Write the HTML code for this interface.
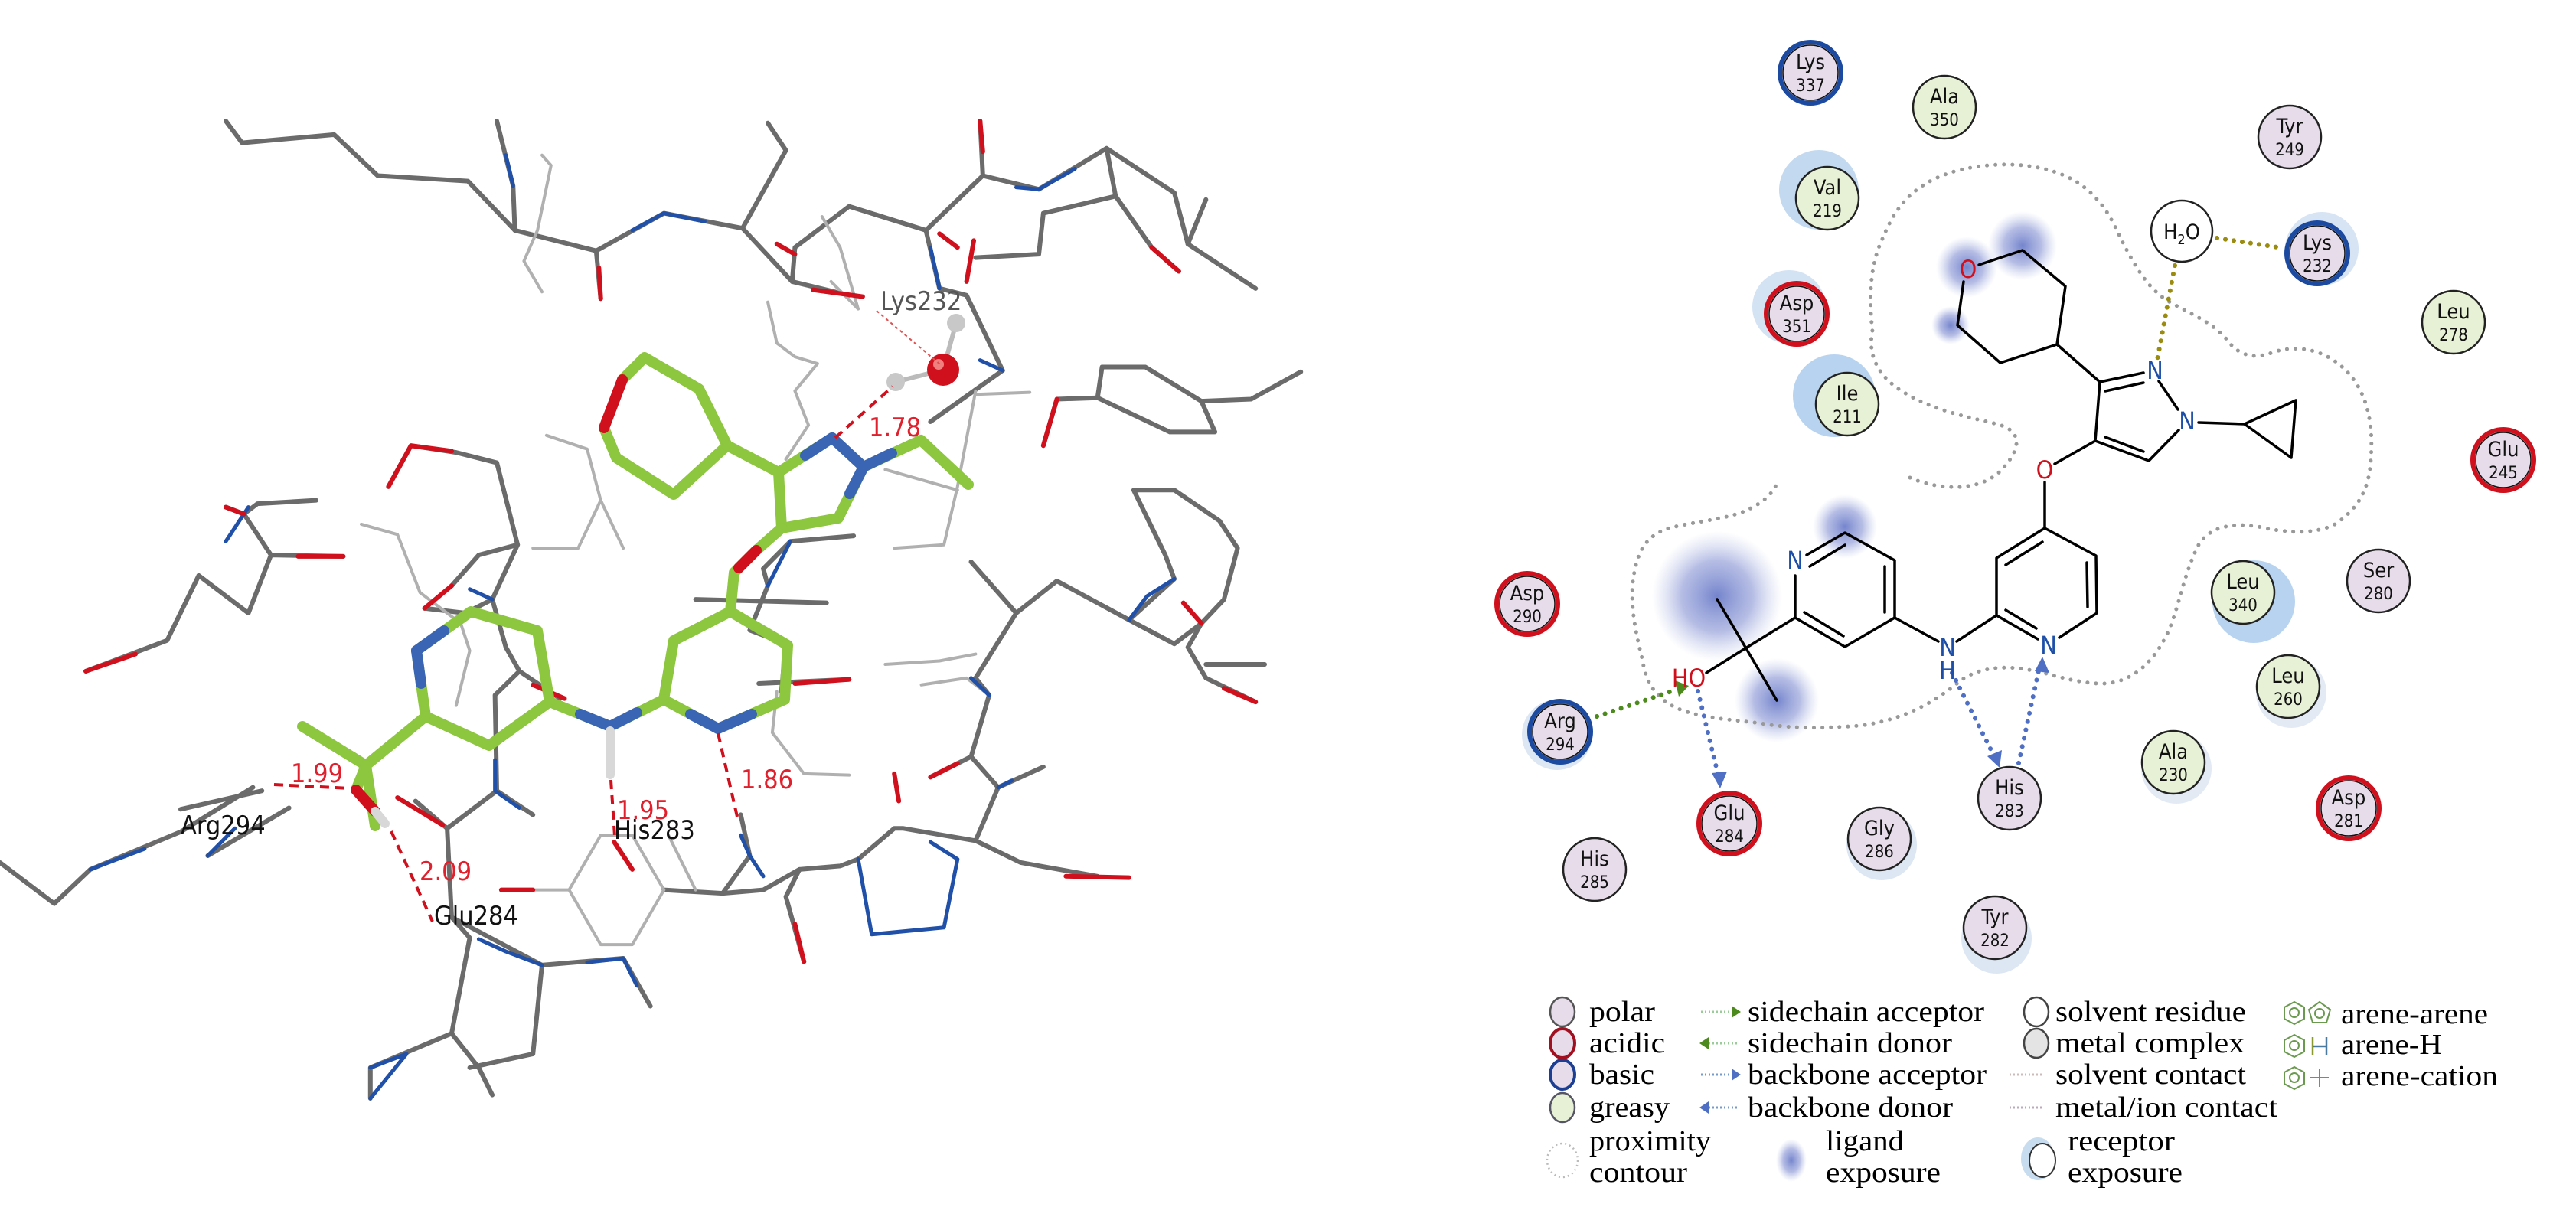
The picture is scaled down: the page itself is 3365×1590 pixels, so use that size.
<!DOCTYPE html>
<html><head><meta charset="utf-8">
<style>
html,body{margin:0;padding:0;background:#fff;}
svg{display:block;}
.rn{font-family:"DejaVu Sans Condensed","DejaVu Sans",sans-serif;font-size:27px;text-anchor:middle;fill:#111;}
.rk{font-family:"DejaVu Sans Condensed","DejaVu Sans",sans-serif;font-size:22px;text-anchor:middle;fill:#111;}
.lg{font-family:"Liberation Serif",serif;font-size:38px;fill:#000;}
.at{font-family:"DejaVu Sans Condensed","DejaVu Sans",sans-serif;font-size:32px;text-anchor:middle;dominant-baseline:central;}
.lbl{font-family:"DejaVu Sans Condensed","DejaVu Sans",sans-serif;font-size:34px;}
</style></head>
<body>
<svg width="3365" height="1590" viewBox="0 0 3365 1590" xmlns="http://www.w3.org/2000/svg">
<defs>
<radialGradient id="lb"><stop offset="0" stop-color="#5c6fc4" stop-opacity="0.85"/><stop offset="0.55" stop-color="#7a88cf" stop-opacity="0.55"/><stop offset="1" stop-color="#a9b3e0" stop-opacity="0"/></radialGradient>
<marker id="ag" viewBox="0 0 10 10" refX="8" refY="5" markerWidth="5" markerHeight="5" orient="auto"><path d="M0,0L10,5L0,10z" fill="#4d8a1e"/></marker>
<marker id="ab" viewBox="0 0 10 10" refX="8" refY="5" markerWidth="5" markerHeight="5" orient="auto"><path d="M0,0L10,5L0,10z" fill="#4f6fc4"/></marker>
</defs>

<!-- ========== LEFT 3D PANEL ========== -->
<g transform="translate(0,100) scale(1.18,0.893)" fill="none" stroke-linecap="round" stroke-linejoin="round">
<g stroke="#6b6b6b" stroke-width="6" vector-effect="non-scaling-stroke">
<polyline vector-effect="non-scaling-stroke" points="250,65 268,97 370,85 418,145 518,153 570,225 660,255 735,200 822,222 870,108 850,68"/>
<polyline vector-effect="non-scaling-stroke" points="550,65 568,160 570,225"/>
<polyline vector-effect="non-scaling-stroke" points="660,255 665,325"/>
<polyline vector-effect="non-scaling-stroke" points="822,222 877,300 940,320"/>
<polyline vector-effect="non-scaling-stroke" points="877,300 880,250 940,190 1025,225 1088,145 1150,165 1225,105 1300,170 1315,245 1390,310"/>
<polyline vector-effect="non-scaling-stroke" points="1088,145 1085,65"/>
<polyline vector-effect="non-scaling-stroke" points="1025,225 1040,310 1070,320 1110,430 1030,505"/>
<polyline vector-effect="non-scaling-stroke" points="1225,105 1235,175 1155,200 1150,260 1080,265"/>
<polyline vector-effect="non-scaling-stroke" points="1235,175 1275,250 1305,285"/>
<polyline vector-effect="non-scaling-stroke" points="1315,245 1335,180"/>
<polyline vector-effect="non-scaling-stroke" points="1155,540 1170,472 1215,470 1295,520 1345,520 1330,475 1385,472 1440,432"/>
<polyline vector-effect="non-scaling-stroke" points="1215,470 1220,425 1268,425 1330,475"/>
<polyline vector-effect="non-scaling-stroke" points="220,730 275,785 300,700 380,702"/>
<polyline vector-effect="non-scaling-stroke" points="300,700 270,640 250,630"/>
<polyline vector-effect="non-scaling-stroke" points="270,640 285,625 350,620"/>
<polyline vector-effect="non-scaling-stroke" points="220,730 185,825 95,870"/>
<polyline vector-effect="non-scaling-stroke" points="430,600 455,540 505,550 550,565 573,685 545,765 515,785 470,778"/>
<polyline vector-effect="non-scaling-stroke" points="573,685 530,700 500,745"/>
<polyline vector-effect="non-scaling-stroke" points="545,765 560,835 575,870 620,910"/>
<polyline vector-effect="non-scaling-stroke" points="550,1045 548,905 575,870"/>
<polyline vector-effect="non-scaling-stroke" points="1075,710 1125,785 1170,738 1250,795 1300,830 1330,800 1355,765 1370,690 1350,650 1300,605 1255,605 1290,700 1300,735 1250,795"/>
<polyline vector-effect="non-scaling-stroke" points="1125,785 1080,880 1095,905 1075,995 1030,1025"/>
<polyline vector-effect="non-scaling-stroke" points="1075,995 1105,1040 1080,1118 1130,1150 1215,1170"/>
<polyline vector-effect="non-scaling-stroke" points="1105,1040 1155,1010"/>
<polyline vector-effect="non-scaling-stroke" points="1330,800 1315,835 1335,880 1390,915"/>
<polyline vector-effect="non-scaling-stroke" points="1335,860 1400,860"/>
<polyline vector-effect="non-scaling-stroke" points="770,765 915,770"/>
<polyline vector-effect="non-scaling-stroke" points="845,720 875,680 945,672"/>
<polyline vector-effect="non-scaling-stroke" points="845,720 850,745 830,810 870,830 865,900"/>
<polyline vector-effect="non-scaling-stroke" points="840,888 940,882"/>
<polyline vector-effect="non-scaling-stroke" points="735,1190 800,1195 845,1190 885,1160 930,1155 950,1145 990,1100 1000,1100 1080,1118"/>
<polyline vector-effect="non-scaling-stroke" points="885,1160 870,1200 890,1295"/>
<polyline vector-effect="non-scaling-stroke" points="820,1080 830,1140 800,1195"/>
<polyline vector-effect="non-scaling-stroke" points="495,1100 500,1230 520,1260 500,1400 410,1450 410,1495"/>
<polyline vector-effect="non-scaling-stroke" points="500,1400 530,1450 545,1490"/>
<polyline vector-effect="non-scaling-stroke" points="500,1230 600,1300 690,1290 720,1360"/>
<polyline vector-effect="non-scaling-stroke" points="600,1300 590,1430 520,1450"/>
<polyline vector-effect="non-scaling-stroke" points="460,1060 495,1100 550,1045 590,1080"/>
<polyline vector-effect="non-scaling-stroke" points="0,1150 60,1210 100,1160 200,1105 280,1040"/>
<polyline vector-effect="non-scaling-stroke" points="200,1072 290,1045"/>
<polyline vector-effect="non-scaling-stroke" points="230,1140 320,1070"/>
</g>
<g stroke="#b0b0b0" stroke-width="4">
<polyline vector-effect="non-scaling-stroke" points="600,115 610,130 595,225 580,270 600,315"/>
<polyline vector-effect="non-scaling-stroke" points="910,205 930,250 950,340 920,300"/>
<polyline vector-effect="non-scaling-stroke" points="850,330 860,390 880,410 905,420 880,460 895,510 870,560"/>
<polyline vector-effect="non-scaling-stroke" points="1080,460 1060,600 1045,685 990,690"/>
<polyline vector-effect="non-scaling-stroke" points="1140,462 1080,465"/>
<polyline vector-effect="non-scaling-stroke" points="980,575 1060,605"/>
<polyline vector-effect="non-scaling-stroke" points="605,525 650,545 665,620 690,690"/>
<polyline vector-effect="non-scaling-stroke" points="665,620 640,690 590,690"/>
<polyline vector-effect="non-scaling-stroke" points="400,655 440,670 465,755 510,800 520,840 505,920"/>
<polyline vector-effect="non-scaling-stroke" points="860,900 855,960 890,1020 940,1022"/>
<polyline vector-effect="non-scaling-stroke" points="980,860 1040,855 1080,845"/>
<polyline vector-effect="non-scaling-stroke" points="1020,890 1070,880 1095,905"/>
<polyline vector-effect="non-scaling-stroke" points="630,1190 665,1110 700,1110 735,1190 700,1270 665,1270 630,1190"/>
<polyline vector-effect="non-scaling-stroke" points="555,1190 630,1190"/>
<polyline vector-effect="non-scaling-stroke" points="740,1110 770,1190"/>
</g>
<!-- colored accents -->
<g stroke="#2050a8" stroke-width="5">
<polyline vector-effect="non-scaling-stroke" points="560,115 568,160"/>
<polyline vector-effect="non-scaling-stroke" points="700,225 735,200 780,212"/>
<polyline vector-effect="non-scaling-stroke" points="1125,162 1150,165 1190,135"/>
<polyline vector-effect="non-scaling-stroke" points="1030,250 1040,310"/>
<polyline vector-effect="non-scaling-stroke" points="1085,415 1110,430"/>
<polyline vector-effect="non-scaling-stroke" points="250,680 275,630"/>
<polyline vector-effect="non-scaling-stroke" points="545,765 520,750"/>
<polyline vector-effect="non-scaling-stroke" points="850,745 875,680"/>
<polyline vector-effect="non-scaling-stroke" points="1250,795 1270,760 1300,735"/>
<polyline vector-effect="non-scaling-stroke" points="548,1000 548,1045 575,1070"/>
<polyline vector-effect="non-scaling-stroke" points="820,1110 830,1140 845,1170"/>
<polyline vector-effect="non-scaling-stroke" points="950,1145 965,1255 1045,1245 1060,1145 1030,1120"/>
<polyline vector-effect="non-scaling-stroke" points="100,1160 160,1130"/>
<polyline vector-effect="non-scaling-stroke" points="410,1450 450,1430 410,1495"/>
<polyline vector-effect="non-scaling-stroke" points="600,1300 560,1280 530,1262"/>
<polyline vector-effect="non-scaling-stroke" points="650,1296 690,1290 705,1330"/>
<polyline vector-effect="non-scaling-stroke" points="230,1140 260,1100"/>
<polyline vector-effect="non-scaling-stroke" points="1095,905 1075,880"/>
<polyline vector-effect="non-scaling-stroke" points="1105,1040 1120,1030"/>
</g>
<g stroke="#d0101c" stroke-width="6">
<polyline vector-effect="non-scaling-stroke" points="663,280 665,325"/>
<polyline vector-effect="non-scaling-stroke" points="900,312 955,322"/>
<polyline vector-effect="non-scaling-stroke" points="1085,65 1088,110"/>
<polyline vector-effect="non-scaling-stroke" points="1275,250 1305,285"/>
<polyline vector-effect="non-scaling-stroke" points="1040,230 1060,250"/>
<polyline vector-effect="non-scaling-stroke" points="1078,240 1070,300"/>
<polyline vector-effect="non-scaling-stroke" points="330,702 380,702"/>
<polyline vector-effect="non-scaling-stroke" points="250,630 270,640"/>
<polyline vector-effect="non-scaling-stroke" points="95,870 150,845"/>
<polyline vector-effect="non-scaling-stroke" points="430,600 455,540 500,548"/>
<polyline vector-effect="non-scaling-stroke" points="470,778 500,745"/>
<polyline vector-effect="non-scaling-stroke" points="590,890 625,910"/>
<polyline vector-effect="non-scaling-stroke" points="880,888 940,882"/>
<polyline vector-effect="non-scaling-stroke" points="1030,1025 1060,1005"/>
<polyline vector-effect="non-scaling-stroke" points="1180,1170 1250,1172"/>
<polyline vector-effect="non-scaling-stroke" points="1355,895 1390,915"/>
<polyline vector-effect="non-scaling-stroke" points="880,1240 890,1295"/>
<polyline vector-effect="non-scaling-stroke" points="990,1020 995,1060"/>
<polyline vector-effect="non-scaling-stroke" points="680,1120 700,1160"/>
<polyline vector-effect="non-scaling-stroke" points="555,1190 590,1190"/>
<polyline vector-effect="non-scaling-stroke" points="1310,770 1330,800"/>
<polyline vector-effect="non-scaling-stroke" points="440,1055 490,1095"/>
<polyline vector-effect="non-scaling-stroke" points="1170,472 1155,540"/>
<polyline vector-effect="non-scaling-stroke" points="860,245 880,260"/>
</g>
</g>

<!-- Ligand green sticks -->
<g fill="none" stroke="#8dc63f" stroke-width="14" stroke-linecap="round" stroke-linejoin="round">
<polyline points="813,496 842,467 913,508 950,582 880,646 805,598 789,559"/>
<polyline points="950,582 1017,617 1087,572 1128,610 1095,677 1021,690 1017,617"/>
<polyline points="1128,610 1203,575 1265,633"/>
<polyline points="1021,690 988,719 959,748 954,799"/>
<polyline points="954,799 1029,843 1025,914 938,952 867,914 880,837 954,799"/>
<polyline points="867,914 797,949 718,917"/>
<polyline points="718,917 702,824 615,799 544,850 556,936 639,974 718,917"/>
<polyline points="556,936 478,1000 395,949"/>
<polyline points="478,1000 490,1079"/>
<polyline points="478,1000 465,1032"/>
</g>
<g fill="none" stroke-width="14" stroke-linecap="round">
<line x1="789" y1="559" x2="813" y2="496" stroke="#d0101c"/>
<line x1="1052" y1="595" x2="1087" y2="572" stroke="#3a64b4"/>
<line x1="1087" y1="572" x2="1128" y2="610" stroke="#3a64b4"/>
<line x1="1128" y1="610" x2="1110" y2="645" stroke="#3a64b4"/>
<line x1="1128" y1="610" x2="1165" y2="592" stroke="#3a64b4"/>
<line x1="988" y1="719" x2="965" y2="742" stroke="#d0101c"/>
<line x1="982" y1="933" x2="938" y2="952" stroke="#3a64b4"/>
<line x1="938" y1="952" x2="902" y2="933" stroke="#3a64b4"/>
<line x1="832" y1="931" x2="797" y2="949" stroke="#3a64b4"/>
<line x1="797" y1="949" x2="758" y2="933" stroke="#3a64b4"/>
<line x1="797" y1="955" x2="797" y2="1012" stroke="#d8d8d8" stroke-width="12"/>
<line x1="580" y1="824" x2="544" y2="850" stroke="#3a64b4"/>
<line x1="544" y1="850" x2="550" y2="893" stroke="#3a64b4"/>
<line x1="465" y1="1032" x2="490" y2="1060" stroke="#d0101c"/>
<line x1="490" y1="1060" x2="503" y2="1076" stroke="#d8d8d8" stroke-width="12"/>
</g>
<!-- water -->
<line x1="1170" y1="499" x2="1232" y2="483" stroke="#bbb" stroke-width="6"/>
<line x1="1232" y1="483" x2="1249" y2="422" stroke="#bbb" stroke-width="6"/>
<circle cx="1232" cy="483" r="21" fill="#d0101c"/>
<circle cx="1226" cy="476" r="7" fill="#f08080"/>
<circle cx="1170" cy="499" r="12" fill="#c8c8c8"/>
<circle cx="1249" cy="422" r="12" fill="#c8c8c8"/>
<!-- H-bond dashes -->
<g stroke="#d0101c" stroke-width="4" stroke-dasharray="12,8" fill="none">
<line x1="1091" y1="572" x2="1166" y2="505"/>
<line x1="938" y1="958" x2="963" y2="1067"/>
<line x1="798" y1="1019" x2="803" y2="1092"/>
<line x1="358" y1="1025" x2="457" y2="1030"/>
<line x1="511" y1="1086" x2="565" y2="1204"/>
</g>
<line x1="1145" y1="406" x2="1228" y2="476" stroke="#e05050" stroke-width="2" stroke-dasharray="4,4"/>
<g class="lbl" fill="#e0202c">
<text x="1135" y="570">1.78</text>
<text x="968" y="1030">1.86</text>
<text x="806" y="1070">1.95</text>
<text x="380" y="1022">1.99</text>
<text x="548" y="1150">2.09</text>
</g>
<g class="lbl" fill="#111">
<text x="1150" y="405" fill="#555">Lys232</text>
<text x="236" y="1090">Arg294</text>
<text x="802" y="1096">His283</text>
<text x="567" y="1208">Glu284</text>
</g>

<!-- ========== RIGHT 2D PANEL ========== -->
<!-- receptor exposure halos -->
<g>
<circle cx="2376" cy="248" r="52" fill="#c3d9f0"/>
<circle cx="2337" cy="401" r="48" fill="#d3e3f3"/>
<circle cx="2396" cy="517" r="54" fill="#b8d3ef"/>
<circle cx="3033" cy="325" r="48" fill="#d6e4f4"/>
<circle cx="2944" cy="786" r="54" fill="#b8d3ef"/>
<circle cx="2608" cy="1226" r="46" fill="#dde6f3"/>
<circle cx="2458" cy="1104" r="46" fill="#dde6f3"/>
<circle cx="2843" cy="1004" r="46" fill="#e3eaf4"/>
<circle cx="2993" cy="905" r="46" fill="#e3eaf4"/>
<circle cx="2034" cy="960" r="46" fill="#dde6f3"/>
</g>
<!-- ligand exposure blobs -->
<g>
<circle cx="2243" cy="779" r="85" fill="url(#lb)"/>
<circle cx="2321" cy="915" r="55" fill="url(#lb)"/>
<circle cx="2410" cy="688" r="42" fill="url(#lb)"/>
<circle cx="2642" cy="321" r="45" fill="url(#lb)"/>
<circle cx="2569" cy="349" r="40" fill="url(#lb)"/>
<circle cx="2548" cy="425" r="25" fill="url(#lb)"/>
</g>
<!-- proximity contour -->
<g fill="none" stroke="#999" stroke-width="5" stroke-dasharray="0.1,11" stroke-linecap="round">
<path d="M2495,624 C2530,640 2590,645 2618,610 C2640,585 2640,565 2615,556 C2590,548 2530,540 2486,512 C2450,490 2440,460 2446,433 C2440,380 2445,340 2460,310 C2480,260 2510,235 2560,222 C2620,208 2680,215 2718,241 C2750,265 2760,290 2771,313 C2790,350 2805,375 2830,392 C2860,410 2890,420 2910,445 C2925,465 2945,470 2970,460 C3000,450 3040,455 3070,490 C3095,520 3100,560 3097,600 C3095,640 3080,665 3050,685 C3020,700 2980,695 2950,688 C2910,682 2880,690 2868,720 C2850,760 2845,800 2830,830 C2810,870 2780,895 2740,893 C2700,890 2680,880 2650,875 C2610,868 2580,875 2560,890 C2530,915 2490,940 2430,948 C2380,952 2340,952 2300,945 C2260,940 2220,938 2190,925 C2160,910 2150,890 2145,860 C2135,820 2130,790 2133,760 C2138,720 2150,700 2180,690 C2220,680 2260,678 2285,665 C2305,655 2315,645 2321,632"/>
</g>

<!-- H-bond interactions -->
<g fill="none" stroke-width="6" stroke-dasharray="0.1,11" stroke-linecap="round">
<line x1="2896" y1="311" x2="2975" y2="323" stroke="#9a8c10"/>
<line x1="2841" y1="347" x2="2818" y2="470" stroke="#9a8c10"/>
<line x1="2086" y1="936" x2="2190" y2="901" stroke="#4d8a1e"/>
<line x1="2218" y1="903" x2="2245" y2="1015" stroke="#4f6fc4"/>
<line x1="2550" y1="879" x2="2606" y2="990" stroke="#4f6fc4"/>
<line x1="2637" y1="997" x2="2664" y2="872" stroke="#4f6fc4"/>
</g>
<g>
<path d="M2206,896 L2188,889 L2193,910 Z" fill="#4d8a1e"/>
<path d="M2247,1030 L2236,1010 L2256,1008 Z" fill="#4f6fc4"/>
<path d="M2612,1003 L2596,988 L2615,980 Z" fill="#4f6fc4"/>
<path d="M2668,858 L2658,877 L2677,879 Z" fill="#4f6fc4"/>
</g>

<!-- ligand 2D bonds -->
<g stroke="#000" stroke-width="3.5" fill="none" stroke-linecap="round" stroke-linejoin="round">
<polyline points="2585,346 2642,327 2698,374 2687,450 2613,474 2557,425 2565,368"/>
<line x1="2687" y1="450" x2="2743" y2="499"/>
<line x1="2743" y1="499" x2="2800" y2="487"/>
<line x1="2750" y1="511" x2="2800" y2="500"/>
<line x1="2820" y1="498" x2="2845" y2="535"/>
<line x1="2846" y1="562" x2="2807" y2="602"/>
<polyline points="2807,602 2737,576 2743,499"/>
<line x1="2750" y1="571" x2="2800" y2="590"/>
<line x1="2872" y1="552" x2="2932" y2="554"/>
<polyline points="2932,554 2999,523 2993,598 2932,554"/>
<line x1="2737" y1="576" x2="2684" y2="606"/>
<line x1="2671" y1="630" x2="2671" y2="690"/>
<polyline points="2671,690 2738,726 2739,801 2690,833"/>
<polyline points="2671,690 2608,729 2608,804 2662,835"/>
<line x1="2620" y1="738" x2="2668" y2="708"/>
<line x1="2726" y1="735" x2="2727" y2="793"/>
<line x1="2620" y1="797" x2="2660" y2="821"/>
<line x1="2608" y1="804" x2="2556" y2="838"/>
<line x1="2532" y1="838" x2="2475" y2="807"/>
<polyline points="2475,807 2475,732 2410,696 2360,725"/>
<polyline points="2475,807 2410,845 2345,807 2345,752"/>
<line x1="2364" y1="740" x2="2410" y2="712"/>
<line x1="2462" y1="740" x2="2462" y2="800"/>
<line x1="2357" y1="800" x2="2408" y2="831"/>
<line x1="2345" y1="807" x2="2280" y2="847"/>
<line x1="2243" y1="783" x2="2321" y2="915"/>
<line x1="2280" y1="847" x2="2229" y2="879"/>
</g>
<g class="at">
<text x="2571" y="352" fill="#d0101c">O</text>
<text x="2815" y="484" fill="#1d4fa8">N</text>
<text x="2857" y="550" fill="#1d4fa8">N</text>
<text x="2671" y="614" fill="#d0101c">O</text>
<text x="2676" y="843" fill="#1d4fa8">N</text>
<text x="2544" y="846" fill="#1d4fa8">N</text>
<text x="2544" y="876" fill="#1d4fa8">H</text>
<text x="2345" y="732" fill="#1d4fa8">N</text>
<text x="2206" y="886" fill="#d0101c">HO</text>
</g>

<!-- residues -->
<g stroke-width="2.5">
<!-- polar -->
<g fill="#e6dcea" stroke="#222">
<circle cx="2991" cy="179" r="41"/><circle cx="3107" cy="759" r="41"/>
<circle cx="2625" cy="1043" r="41"/><circle cx="2455" cy="1096" r="41"/>
<circle cx="2083" cy="1136" r="41"/><circle cx="2606" cy="1212" r="41"/>
</g>
<!-- greasy -->
<g fill="#e7f1d6" stroke="#222">
<circle cx="2540" cy="140" r="41"/><circle cx="2387" cy="259" r="41"/>
<circle cx="3205" cy="421" r="41"/><circle cx="2413" cy="528" r="41"/>
<circle cx="2930" cy="774" r="41"/><circle cx="2989" cy="897" r="41"/>
<circle cx="2839" cy="996" r="41"/>
</g>
<!-- acidic -->
<g fill="#e6dcea" stroke="#d0101c" stroke-width="6">
<circle cx="2347" cy="410" r="40"/><circle cx="3270" cy="601" r="40"/>
<circle cx="1995" cy="789" r="40"/><circle cx="3068" cy="1056" r="40"/>
<circle cx="2259" cy="1076" r="40"/>
</g>
<!-- basic -->
<g fill="#e6dcea" stroke="#1c4aa0" stroke-width="6">
<circle cx="2365" cy="95" r="40"/><circle cx="3027" cy="331" r="40"/>
<circle cx="2038" cy="956" r="40"/>
</g>
<g fill="none" stroke="#111" stroke-width="1.5">
<circle cx="2347" cy="410" r="36"/><circle cx="3270" cy="601" r="36"/>
<circle cx="1995" cy="789" r="36"/><circle cx="3068" cy="1056" r="36"/>
<circle cx="2259" cy="1076" r="36"/><circle cx="2365" cy="95" r="36"/>
<circle cx="3027" cy="331" r="36"/><circle cx="2038" cy="956" r="36"/>
</g>
<circle cx="2850" cy="302" r="40" fill="#fff" stroke="#222"/>
</g>
<text x="2850" y="312" class="rn" font-size="26">H<tspan font-size="18" dy="7">2</tspan><tspan dy="-7">O</tspan></text>
<g>
<text class="rn" x="2365" y="90">Lys</text><text class="rk" x="2365" y="119">337</text>
<text class="rn" x="2540" y="135">Ala</text><text class="rk" x="2540" y="164">350</text>
<text class="rn" x="2991" y="174">Tyr</text><text class="rk" x="2991" y="203">249</text>
<text class="rn" x="2387" y="254">Val</text><text class="rk" x="2387" y="283">219</text>
<text class="rn" x="3027" y="326">Lys</text><text class="rk" x="3027" y="355">232</text>
<text class="rn" x="2347" y="405">Asp</text><text class="rk" x="2347" y="434">351</text>
<text class="rn" x="3205" y="416">Leu</text><text class="rk" x="3205" y="445">278</text>
<text class="rn" x="2413" y="523">Ile</text><text class="rk" x="2413" y="552">211</text>
<text class="rn" x="3270" y="596">Glu</text><text class="rk" x="3270" y="625">245</text>
<text class="rn" x="1995" y="784">Asp</text><text class="rk" x="1995" y="813">290</text>
<text class="rn" x="3107" y="754">Ser</text><text class="rk" x="3107" y="783">280</text>
<text class="rn" x="2930" y="769">Leu</text><text class="rk" x="2930" y="798">340</text>
<text class="rn" x="2989" y="892">Leu</text><text class="rk" x="2989" y="921">260</text>
<text class="rn" x="2038" y="951">Arg</text><text class="rk" x="2038" y="980">294</text>
<text class="rn" x="2839" y="991">Ala</text><text class="rk" x="2839" y="1020">230</text>
<text class="rn" x="2625" y="1038">His</text><text class="rk" x="2625" y="1067">283</text>
<text class="rn" x="3068" y="1051">Asp</text><text class="rk" x="3068" y="1080">281</text>
<text class="rn" x="2259" y="1071">Glu</text><text class="rk" x="2259" y="1100">284</text>
<text class="rn" x="2455" y="1091">Gly</text><text class="rk" x="2455" y="1120">286</text>
<text class="rn" x="2083" y="1131">His</text><text class="rk" x="2083" y="1160">285</text>
<text class="rn" x="2606" y="1207">Tyr</text><text class="rk" x="2606" y="1236">282</text>
</g>

<!-- ========== LEGEND ========== -->
<g stroke-width="2.5">
<ellipse cx="2041" cy="1322" rx="16" ry="19" fill="#e6dcea" stroke="#555"/>
<ellipse cx="2041" cy="1363" rx="16" ry="19" fill="#e6dcea" stroke="#a01020" stroke-width="4"/>
<ellipse cx="2041" cy="1404" rx="16" ry="19" fill="#e6dcea" stroke="#1c3f94" stroke-width="4"/>
<ellipse cx="2041" cy="1447" rx="16" ry="19" fill="#e7f1d6" stroke="#556"/>
<ellipse cx="2041" cy="1516" rx="20" ry="22" fill="none" stroke="#bbb" stroke-dasharray="2,4"/>
<ellipse cx="2660" cy="1322" rx="16" ry="19" fill="#fff" stroke="#444"/>
<ellipse cx="2660" cy="1363" rx="16" ry="19" fill="#e4e4e4" stroke="#444"/>
<ellipse cx="2340" cy="1516" rx="20" ry="28" fill="url(#lb)" stroke="none"/>
<ellipse cx="2662" cy="1514" rx="22" ry="28" fill="#c8dcf0" stroke="none"/>
<ellipse cx="2668" cy="1516" rx="17" ry="22" fill="#fff" stroke="#333" stroke-width="2"/>
</g>
<g stroke-width="3" stroke-dasharray="2,3" fill="none">
<line x1="2222" y1="1322" x2="2262" y2="1322" stroke="#9c9"/>
<line x1="2232" y1="1363" x2="2270" y2="1363" stroke="#9c9"/>
<line x1="2222" y1="1404" x2="2262" y2="1404" stroke="#79c"/>
<line x1="2232" y1="1447" x2="2270" y2="1447" stroke="#79c"/>
<line x1="2625" y1="1404" x2="2670" y2="1404" stroke="#cbb"/>
<line x1="2625" y1="1447" x2="2670" y2="1447" stroke="#bab"/>
</g>
<path d="M2262,1314 L2274,1322 L2262,1330Z" fill="#4d8a1e"/>
<path d="M2232,1355 L2220,1363 L2232,1371Z" fill="#4d8a1e"/>
<path d="M2262,1396 L2274,1404 L2262,1412Z" fill="#4f6fc4"/>
<path d="M2232,1439 L2220,1447 L2232,1455Z" fill="#4f6fc4"/>
<g fill="none" stroke="#6a9a50" stroke-width="2">
<polygon points="2997,1309 3010,1316 3010,1331 2997,1338 2984,1331 2984,1316"/><circle cx="2997" cy="1323" r="6"/>
<polygon points="3030,1309 3044,1319 3039,1336 3021,1336 3016,1319"/><circle cx="3030" cy="1324" r="6"/>
<polygon points="2997,1352 3010,1359 3010,1374 2997,1381 2984,1374 2984,1359"/><circle cx="2997" cy="1366" r="6"/>
<polygon points="2997,1394 3010,1401 3010,1416 2997,1423 2984,1416 2984,1401"/><circle cx="2997" cy="1408" r="6"/>
<line x1="3030" y1="1396" x2="3030" y2="1420"/><line x1="3018" y1="1408" x2="3042" y2="1408"/>
</g>
<g fill="none" stroke-width="2.5"><line x1="3021" y1="1355" x2="3021" y2="1379" stroke="#8a9a30"/><line x1="3039" y1="1355" x2="3039" y2="1379" stroke="#4a7aa0"/><line x1="3021" y1="1367" x2="3039" y2="1367" stroke="#4a7aa0"/></g>
<g class="lg">
<text x="2076" y="1334" textLength="86" lengthAdjust="spacingAndGlyphs">polar</text>
<text x="2076" y="1375" textLength="99" lengthAdjust="spacingAndGlyphs">acidic</text>
<text x="2076" y="1416" textLength="85" lengthAdjust="spacingAndGlyphs">basic</text>
<text x="2076" y="1459" textLength="105" lengthAdjust="spacingAndGlyphs">greasy</text>
<text x="2283" y="1334" textLength="309" lengthAdjust="spacingAndGlyphs">sidechain acceptor</text>
<text x="2283" y="1375" textLength="267" lengthAdjust="spacingAndGlyphs">sidechain donor</text>
<text x="2283" y="1416" textLength="312" lengthAdjust="spacingAndGlyphs">backbone acceptor</text>
<text x="2283" y="1459" textLength="268" lengthAdjust="spacingAndGlyphs">backbone donor</text>
<text x="2685" y="1334" textLength="249" lengthAdjust="spacingAndGlyphs">solvent residue</text>
<text x="2685" y="1375" textLength="247" lengthAdjust="spacingAndGlyphs">metal complex</text>
<text x="2685" y="1416" textLength="249" lengthAdjust="spacingAndGlyphs">solvent contact</text>
<text x="2685" y="1459" textLength="290" lengthAdjust="spacingAndGlyphs">metal/ion contact</text>
<text x="3058" y="1337" textLength="192" lengthAdjust="spacingAndGlyphs">arene-arene</text>
<text x="3058" y="1377" textLength="132" lengthAdjust="spacingAndGlyphs">arene-H</text>
<text x="3058" y="1418" textLength="205" lengthAdjust="spacingAndGlyphs">arene-cation</text>
<text x="2076" y="1503" textLength="159" lengthAdjust="spacingAndGlyphs">proximity</text>
<text x="2076" y="1544" textLength="128" lengthAdjust="spacingAndGlyphs">contour</text>
<text x="2385" y="1503" textLength="102" lengthAdjust="spacingAndGlyphs">ligand</text>
<text x="2385" y="1544" textLength="150" lengthAdjust="spacingAndGlyphs">exposure</text>
<text x="2701" y="1503" textLength="140" lengthAdjust="spacingAndGlyphs">receptor</text>
<text x="2701" y="1544" textLength="150" lengthAdjust="spacingAndGlyphs">exposure</text>
</g>
</svg>
</body></html>
